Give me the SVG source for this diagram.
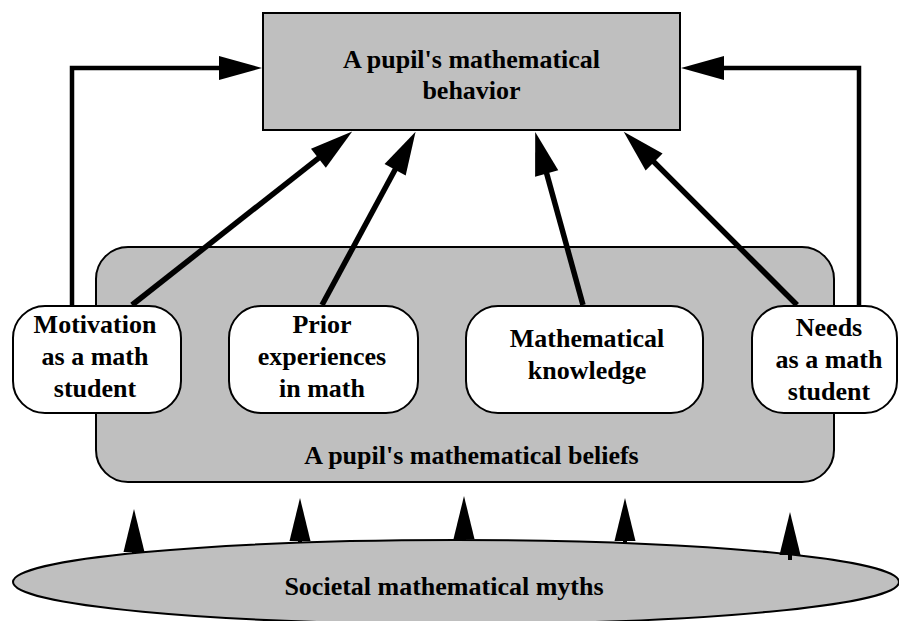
<svg xmlns="http://www.w3.org/2000/svg" width="899" height="621" viewBox="0 0 899 621">
  <style>
    .box { fill: #bfbfbf; stroke: #000; stroke-width: 2; }
    .node { fill: #fff; stroke: #000; stroke-width: 2; }
    .elbow { fill: none; stroke: #000; stroke-width: 4.5; marker-end: url(#head); }
    .diag { fill: none; stroke: #000; stroke-width: 5.5; marker-end: url(#head); }
    .up { fill: none; stroke: #000; stroke-width: 4; marker-end: url(#headS); }
  </style>
  <defs>
    <marker id="head" markerUnits="userSpaceOnUse" viewBox="0 -12 43 24" markerWidth="43" markerHeight="24" refX="1" refY="0" orient="auto" overflow="visible">
      <path d="M0,-12 L43,0 L0,12 Z" fill="#000"/>
    </marker>
    <marker id="headS" markerUnits="userSpaceOnUse" viewBox="0 -10.5 43 21" markerWidth="43" markerHeight="21" refX="1" refY="0" orient="auto" overflow="visible">
      <path d="M0,-10.5 L43,0 L0,10.5 Z" fill="#000"/>
    </marker>
  </defs>

  <g id="behavior">
    <rect class="box" x="263" y="13" width="417" height="117"/>
    <g font-family="Liberation Serif" font-weight="bold" font-size="26" text-anchor="middle">
      <text x="471.5" y="68" style="font-family: 'Liberation Serif', serif; font-weight: bold; font-size: 26px">A pupil's mathematical</text>
      <text x="471.5" y="99" style="font-family: 'Liberation Serif', serif; font-weight: bold; font-size: 26px">behavior</text>
    </g>
  </g>

  <g id="beliefs">
    <rect class="box" x="96" y="247" width="738" height="235" rx="32" ry="32"/>
    <text x="471.5" y="464" text-anchor="middle" style="font-family: 'Liberation Serif', serif; font-weight: bold; font-size: 26px">A pupil's mathematical beliefs</text>
  </g>

  <g id="myths">
    <ellipse class="box" cx="456" cy="582" rx="443" ry="42"/>
    <text x="444" y="595" text-anchor="middle" style="font-family: 'Liberation Serif', serif; font-weight: bold; font-size: 26px">Societal mathematical myths</text>
  </g>

  <g id="connectors">
    <path class="elbow" d="M72,305 V68 H220"/>
    <path class="elbow" d="M859,305 V68 H723"/>
    <path class="diag" d="M132,305 L319.2,157.6"/>
    <path class="diag" d="M322,305 L395.6,168.8"/>
    <path class="diag" d="M583,305 L546.4,172.5"/>
    <path class="diag" d="M797,305 L653.4,161.4"/>
    <path class="up" d="M134,554 V551"/>
    <path class="up" d="M300,543 V540"/>
    <path class="up" d="M464,541 V538"/>
    <path class="up" d="M625,543 V540"/>
    <path class="up" d="M790,560 V554"/>
  </g>

  <g id="motivation">
    <rect class="node" x="13" y="306" width="168" height="107" rx="32" ry="32"/>
    <text x="95" y="333" text-anchor="middle" style="font-family: 'Liberation Serif', serif; font-weight: bold; font-size: 26px">Motivation</text>
    <text x="95" y="365" text-anchor="middle" style="font-family: 'Liberation Serif', serif; font-weight: bold; font-size: 26px">as a math</text>
    <text x="95" y="397" text-anchor="middle" style="font-family: 'Liberation Serif', serif; font-weight: bold; font-size: 26px">student</text>
  </g>

  <g id="prior">
    <rect class="node" x="229" y="306" width="189" height="107" rx="32" ry="32"/>
    <text x="322" y="333" text-anchor="middle" style="font-family: 'Liberation Serif', serif; font-weight: bold; font-size: 26px">Prior</text>
    <text x="322" y="365" text-anchor="middle" style="font-family: 'Liberation Serif', serif; font-weight: bold; font-size: 26px">experiences</text>
    <text x="322" y="397" text-anchor="middle" style="font-family: 'Liberation Serif', serif; font-weight: bold; font-size: 26px">in math</text>
  </g>

  <g id="knowledge">
    <rect class="node" x="466" y="306" width="237" height="107" rx="32" ry="32"/>
    <text x="587" y="347" text-anchor="middle" style="font-family: 'Liberation Serif', serif; font-weight: bold; font-size: 26px">Mathematical</text>
    <text x="587" y="379" text-anchor="middle" style="font-family: 'Liberation Serif', serif; font-weight: bold; font-size: 26px">knowledge</text>
  </g>

  <g id="needs">
    <rect class="node" x="752" y="306" width="145" height="107" rx="32" ry="32"/>
    <text x="829" y="336" text-anchor="middle" style="font-family: 'Liberation Serif', serif; font-weight: bold; font-size: 26px">Needs</text>
    <text x="829" y="368" text-anchor="middle" style="font-family: 'Liberation Serif', serif; font-weight: bold; font-size: 26px">as a math</text>
    <text x="829" y="400" text-anchor="middle" style="font-family: 'Liberation Serif', serif; font-weight: bold; font-size: 26px">student</text>
  </g>
</svg>
